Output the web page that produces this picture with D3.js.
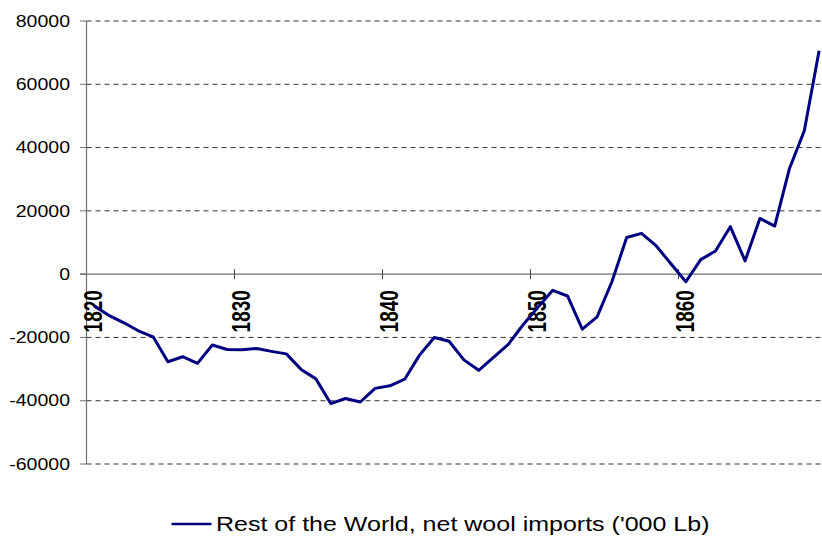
<!DOCTYPE html>
<html>
<head>
<meta charset="utf-8">
<script src="https://cdn.jsdelivr.net/npm/d3@7"></script>
<style>
  body { margin: 0; background: #fff; }
  svg { display: block; font-family: "Liberation Sans", Arial, sans-serif; }
</style>
</head>
<body>
<svg width="822" height="536"></svg>
<script>
// categories (one per year)
var years = [1820, 1821, 1822, 1823, 1824, 1825, 1826, 1827, 1828, 1829,
  1830, 1831, 1832, 1833, 1834, 1835, 1836, 1837, 1838, 1839,
  1840, 1841, 1842, 1843, 1844, 1845, 1846, 1847, 1848, 1849,
  1850, 1851, 1852, 1853, 1854, 1855, 1856, 1857, 1858, 1859,
  1860, 1861, 1862, 1863, 1864, 1865, 1866, 1867, 1868, 1869];

// Rest of the World, net wool imports ('000 Lb)
var imports = [-10000, -13000, -15300, -17900, -19800, -27700, -26100, -28200, -22400, -23800,
  -23900, -23500, -24400, -25200, -30100, -33100, -40900, -39300, -40400, -36100,
  -35300, -33200, -25600, -20000, -21200, -27100, -30400, -26300, -22200, -16000,
  -10500, -5100, -6900, -17400, -13500, -2400, 11600, 12900, 8900, 3200,
  -2400, 4600, 7300, 15000, 4200, 17600, 15200, 33400, 45300, 70600];

var yTicks = [80000, 60000, 40000, 20000, 0, -20000, -40000, -60000];
var xLabels = [1820, 1830, 1840, 1850, 1860];
var xTickMarks = [1830, 1840, 1850, 1860];
var seriesName = "Rest of the World, net wool imports ('000 Lb)";

var svg = d3.select("svg");
var stretch = 1.22; // the original picture is widened a little

var x = d3.scaleBand()
  .domain(years)
  .range([86.5, 826.5])
  .padding(0);

var y = d3.scaleLinear()
  .domain([-60000, 80000])
  .range([464, 21]);

function cx(yr) { return x(yr) + x.bandwidth() / 2; }

// dashed gridlines
svg.append("g")
  .selectAll("line")
  .data(yTicks.filter(function(d) { return d !== 0; }))
  .enter().append("line")
  .attr("x1", 86.5).attr("x2", 826)
  .attr("y1", function(d) { return y(d); })
  .attr("y2", function(d) { return y(d); })
  .attr("stroke", "#333")
  .attr("stroke-dasharray", "5,4");

// y axis
svg.append("line")
  .attr("x1", 86.5).attr("x2", 86.5)
  .attr("y1", y(80000)).attr("y2", y(-60000))
  .attr("stroke", "#707070")
  .attr("stroke-width", 1.2);

svg.append("g")
  .selectAll("line")
  .data(yTicks)
  .enter().append("line")
  .attr("x1", 80).attr("x2", 86.5)
  .attr("y1", function(d) { return y(d); })
  .attr("y2", function(d) { return y(d); })
  .attr("stroke", "#707070");

svg.append("g")
  .selectAll("text")
  .data(yTicks)
  .enter().append("text")
  .attr("transform", function(d) { return "translate(70," + y(d) + ") scale(" + stretch + ",1)"; })
  .attr("text-anchor", "end")
  .attr("dy", "0.36em")
  .style("font-size", "16px")
  .style("fill", "#000")
  .text(function(d) { return d; });

// x axis at zero
svg.append("line")
  .attr("x1", 80).attr("x2", 826)
  .attr("y1", y(0)).attr("y2", y(0))
  .attr("stroke", "#707070")
  .attr("stroke-width", 1.3);

svg.append("g")
  .selectAll("line")
  .data(xTickMarks)
  .enter().append("line")
  .attr("x1", function(d) { return x(d); })
  .attr("x2", function(d) { return x(d); })
  .attr("y1", y(0) - 5).attr("y2", y(0) + 5)
  .attr("stroke", "#444");

svg.append("g")
  .selectAll("text")
  .data(xLabels)
  .enter().append("text")
  .attr("transform", function(d) {
    return "translate(" + (cx(d) - 1) + "," + (y(0) + 16) + ") scale(1.32,1) rotate(-90)";
  })
  .attr("text-anchor", "end")
  .attr("dy", "0.36em")
  .style("font-size", "19px")
  .style("font-weight", "bold")
  .style("fill", "#000")
  .text(function(d) { return d; });

// series line
var line = d3.line()
  .x(function(d, i) { return cx(years[i]); })
  .y(function(d) { return y(d); });

svg.append("path")
  .datum(imports)
  .attr("d", line)
  .attr("fill", "none")
  .attr("stroke", "#000080")
  .attr("stroke-width", 3)
  .attr("stroke-linejoin", "round");

// legend
var legend = svg.append("g");
legend.append("line")
  .attr("x1", 171.5).attr("x2", 211.5)
  .attr("y1", 524).attr("y2", 524)
  .attr("stroke", "#000080")
  .attr("stroke-width", 2.5);
legend.append("text")
  .attr("transform", "translate(216,531) scale(" + stretch + ",1)")
  .style("font-size", "20.5px")
  .style("fill", "#000")
  .text(seriesName);
</script>
</body>
</html>
